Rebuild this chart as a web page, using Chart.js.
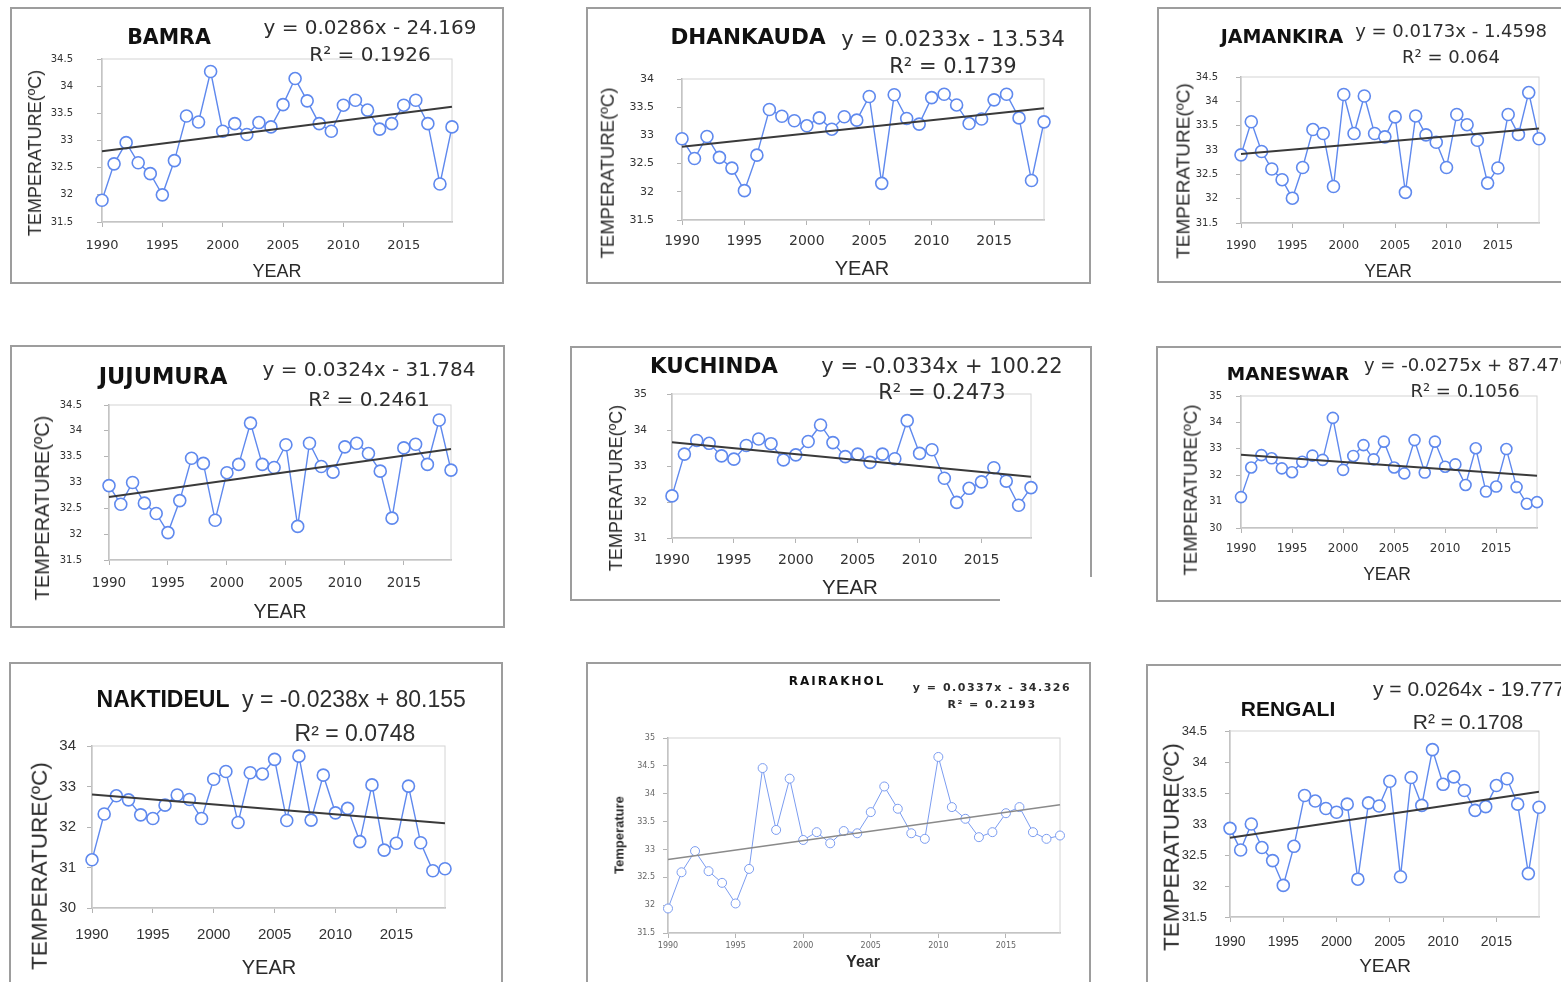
<!DOCTYPE html>
<html>
<head>
<meta charset="utf-8">
<title>Annual temperature trends 1990-2019</title>
<script src="https://cdn.jsdelivr.net/npm/chart.js@4.4.1/dist/chart.umd.min.js"></script>
<style>
  html, body { margin: 0; padding: 0; background: #fff; }
  body { width: 1561px; height: 982px; overflow: hidden; position: relative; }
  .frame { position: absolute; border: 2px solid #9d9d9d; box-sizing: border-box; }
  .edge { position: absolute; background: #9d9d9d; }
  canvas.panel { position: absolute; }
  .lbl { position: absolute; white-space: nowrap; line-height: 1; color: #1a1a1a; }
</style>
</head>
<body>
<script>
// ---- data ----
const years = [1990, 1991, 1992, 1993, 1994, 1995, 1996, 1997, 1998, 1999,
               2000, 2001, 2002, 2003, 2004, 2005, 2006, 2007, 2008, 2009,
               2010, 2011, 2012, 2013, 2014, 2015, 2016, 2017, 2018, 2019];

const stations = ['BAMRA', 'DHANKAUDA', 'JAMANKIRA', 'JUJUMURA', 'KUCHINDA',
                  'MANESWAR', 'NAKTIDEUL', 'RAIRAKHOL', 'RENGALI'];

const bamra = [31.90, 32.57, 32.96, 32.59, 32.39, 32.00, 32.63, 33.45, 33.34, 34.27,
               33.17, 33.31, 33.11, 33.33, 33.25, 33.66, 34.14, 33.73, 33.31, 33.17,
               33.65, 33.74, 33.56, 33.21, 33.31, 33.65, 33.74, 33.31, 32.20, 33.25];
const dhankauda = [32.94, 32.59, 32.98, 32.61, 32.42, 32.02, 32.65, 33.46, 33.34, 33.26,
                   33.17, 33.31, 33.11, 33.33, 33.27, 33.69, 32.15, 33.72, 33.30, 33.20,
                   33.67, 33.73, 33.54, 33.21, 33.29, 33.63, 33.73, 33.31, 32.20, 33.24];
const jamankira = [32.90, 33.58, 32.97, 32.61, 32.39, 32.01, 32.64, 33.42, 33.34, 32.25,
                   34.14, 33.34, 34.11, 33.34, 33.27, 33.68, 32.13, 33.70, 33.31, 33.16,
                   32.64, 33.73, 33.52, 33.20, 32.32, 32.63, 33.73, 33.32, 34.18, 33.23];
const jujumura = [32.94, 32.58, 33.00, 32.60, 32.40, 32.03, 32.65, 33.47, 33.37, 32.27,
                  33.19, 33.35, 34.15, 33.35, 33.29, 33.73, 32.15, 33.76, 33.31, 33.20,
                  33.69, 33.76, 33.56, 33.22, 32.31, 33.67, 33.74, 33.35, 34.21, 33.24];
const kuchinda = [32.17, 33.33, 33.71, 33.63, 33.28, 33.19, 33.57, 33.75, 33.62, 33.17,
                  33.31, 33.68, 34.14, 33.65, 33.26, 33.33, 33.10, 33.33, 33.20, 34.26,
                  33.35, 33.45, 32.66, 31.99, 32.38, 32.56, 32.95, 32.58, 31.91, 32.40];
const maneswar = [31.17, 32.29, 32.76, 32.64, 32.26, 32.11, 32.51, 32.74, 32.58, 34.17,
                  32.20, 32.73, 33.14, 32.60, 33.27, 32.29, 32.07, 33.33, 32.10, 33.27,
                  32.32, 32.41, 31.63, 33.02, 31.38, 31.57, 32.99, 31.55, 30.92, 30.98];
const naktideul = [31.19, 32.32, 32.77, 32.67, 32.30, 32.21, 32.54, 32.79, 32.68, 32.21,
                   33.18, 33.37, 32.11, 33.34, 33.31, 33.67, 32.16, 33.75, 32.17, 33.28,
                   32.35, 32.46, 31.64, 33.04, 31.43, 31.60, 33.01, 31.61, 30.92, 30.97];
const rairakhol = [31.94, 32.59, 32.97, 32.61, 32.40, 32.03, 32.65, 34.46, 33.35, 34.27,
                   33.17, 33.31, 33.11, 33.33, 33.29, 33.67, 34.13, 33.73, 33.29, 33.19,
                   34.66, 33.76, 33.55, 33.22, 33.31, 33.65, 33.76, 33.31, 33.19, 33.25];
const rengali = [32.93, 32.58, 33.00, 32.62, 32.41, 32.01, 32.64, 33.46, 33.37, 33.25,
                 33.19, 33.32, 32.11, 33.34, 33.29, 33.69, 32.15, 33.75, 33.30, 34.20,
                 33.64, 33.76, 33.54, 33.22, 33.28, 33.62, 33.73, 33.32, 32.20, 33.27];

const stationTemps = [bamra, dhankauda, jamankira, jujumura, kuchinda,
                      maneswar, naktideul, rairakhol, rengali];

// linear trend line, value at the first and the last year
const trendStart = [32.80, 32.80, 32.92, 32.72, 33.66, 32.77, 32.80, 32.82, 32.78];
const trendEnd   = [33.62, 33.48, 33.44, 33.65, 32.70, 31.98, 32.09, 33.80, 33.52];

const equations = ['y = 0.0286x - 24.169', 'y = 0.0233x - 13.534', 'y = 0.0173x - 1.4598',
                   'y = 0.0324x - 31.784', 'y = -0.0334x + 100.22', 'y = -0.0275x + 87.479',
                   'y = -0.0238x + 80.155', 'y = 0.0337x - 34.326', 'y = 0.0264x - 19.777'];
const rSquared = ['R² = 0.1926', 'R² = 0.1739', 'R² = 0.064', 'R² = 0.2461', 'R² = 0.2473',
                  'R² = 0.1056', 'R² = 0.0748', 'R² = 0.2193', 'R² = 0.1708'];

const yMin  = [31.5, 31.5, 31.5, 31.5, 31, 30, 30, 31.5, 31.5];
const yMax  = [34.5, 34, 34.5, 34.5, 35, 35, 34, 35, 34.5];
const yStep = [0.5, 0.5, 0.5, 0.5, 1, 1, 1, 0.5, 0.5];
const xStep = 5;

const yAxisTitles = ['TEMPERATURE(ºC)', 'TEMPERATURE(ºC)', 'TEMPERATURE(ºC)', 'TEMPERATURE(ºC)',
                     'TEMPERATURE(ºC)', 'TEMPERATURE(ºC)', 'TEMPERATURE(ºC)', 'Temperature',
                     'TEMPERATURE(ºC)'];
const xAxisTitles = ['YEAR', 'YEAR', 'YEAR', 'YEAR', 'YEAR', 'YEAR', 'YEAR', 'Year', 'YEAR'];

// ---- layout (page pixels) ----
const DV = '"DejaVu Sans", sans-serif';
const LS = '"Liberation Sans", Arial, sans-serif';

const layouts = [
  { box: [10, 7, 494, 277], plot: [102, 59, 452, 222], fam: DV, tickY: 10, tickX: 13, padY: 24, padX: 11,
    title: {x: 169, y: 37, size: 20.5}, eq: {x: 370, y: 27, size: 20}, r2: {x: 370, y: 54, size: 20},
    yTitle: {x: 35, y: 153, size: 18}, xTitle: {x: 277, y: 271, size: 18}, radius: 6 },
  { box: [586, 7, 505, 277], plot: [682, 79, 1044, 220], fam: DV, tickY: 11, tickX: 14, padY: 23, padX: 8,
    title: {x: 748, y: 37, size: 21.5}, eq: {x: 953, y: 39, size: 21}, r2: {x: 953, y: 66, size: 21},
    yTitle: {x: 608, y: 173, size: 18.5}, xTitle: {x: 862, y: 268, size: 20}, radius: 6 },
  { box: [1157, 7, 420, 276], plot: [1241, 77, 1539, 223], fam: DV, tickY: 10, tickX: 12, padY: 18, padX: 11,
    title: {x: 1282, y: 36, size: 19}, eq: {x: 1451, y: 31, size: 18}, r2: {x: 1451, y: 57, size: 18},
    yTitle: {x: 1183, y: 171, size: 19}, xTitle: {x: 1388, y: 272, size: 17.5}, radius: 6 },
  { box: [10, 345, 495, 283], plot: [109, 405, 451, 560], fam: DV, tickY: 10, tickX: 13.5, padY: 22, padX: 10,
    title: {x: 163, y: 376, size: 22.5}, eq: {x: 369, y: 369, size: 20}, r2: {x: 369, y: 399, size: 20},
    yTitle: {x: 42, y: 508, size: 20}, xTitle: {x: 280, y: 612, size: 19.5}, radius: 6 },
  { box: [570, 346, 522, 255], plot: [672, 394, 1031, 538], fam: DV, tickY: 10.5, tickX: 14, padY: 20, padX: 9,
    title: {x: 714, y: 366, size: 21.5}, eq: {x: 942, y: 366, size: 21}, r2: {x: 942, y: 392, size: 21},
    yTitle: {x: 616, y: 488, size: 18}, xTitle: {x: 850, y: 587, size: 20.5}, radius: 6,
    edges: {bottomTo: 1000, rightTo: 577} },
  { box: [1156, 346, 420, 256], plot: [1241, 396, 1537, 528], fam: DV, tickY: 10, tickX: 12, padY: 14, padX: 9,
    title: {x: 1288, y: 374, size: 18.5}, eq: {x: 1364, y: 365, size: 18, left: true},
    r2: {x: 1465, y: 391, size: 18},
    yTitle: {x: 1191, y: 490, size: 18.5}, xTitle: {x: 1387, y: 575, size: 17.5}, radius: 5.5 },
  { box: [9, 662, 494, 340], plot: [92, 746, 445, 908], fam: LS, tickY: 15, tickX: 15, padY: 11, padX: 13,
    title: {x: 163, y: 699, size: 23}, eq: {x: 354, y: 699, size: 23}, r2: {x: 355, y: 733, size: 23},
    yTitle: {x: 40, y: 866, size: 22.5}, xTitle: {x: 269, y: 967, size: 20}, radius: 6 },
  { box: [586, 662, 505, 340], plot: [668, 738, 1060, 933], fam: DV, tickY: 8, tickX: 8, padY: 8, padX: 3,
    small: true,
    title: {x: 837, y: 681, size: 12, ls: 2}, eq: {x: 992, y: 687, size: 11, ls: 1.5, bold: true},
    r2: {x: 992, y: 704, size: 11, ls: 1.5, bold: true},
    yTitle: {x: 619, y: 835, size: 13, bold: true}, xTitle: {x: 863, y: 962, size: 16, bold: true},
    radius: 4.5 },
  { box: [1146, 664, 430, 340], plot: [1230, 731, 1539, 917], fam: LS, tickY: 13, tickX: 14, padY: 18, padX: 12,
    title: {x: 1288, y: 708, size: 21}, eq: {x: 1373, y: 688, size: 21, left: true},
    r2: {x: 1468, y: 721, size: 21},
    yTitle: {x: 1172, y: 847, size: 22.5}, xTitle: {x: 1385, y: 965, size: 19}, radius: 6 }
];

// light border round the plot area
const plotFrame = {
  id: 'plotFrame',
  beforeDatasetsDraw(chart, args, opts) {
    const {left, top, right, bottom} = chart.chartArea;
    const ctx = chart.ctx;
    ctx.save();
    ctx.strokeStyle = opts.color || '#d6d6d6';
    ctx.lineWidth = 1;
    ctx.strokeRect(left, top, right - left, bottom - top);
    ctx.restore();
  }
};

function addDiv(cls, x, y, w, h) {
  const el = document.createElement('div');
  el.className = cls;
  el.style.left = x + 'px';
  el.style.top = y + 'px';
  el.style.width = w + 'px';
  el.style.height = h + 'px';
  document.body.appendChild(el);
  return el;
}

function addLabel(text, spec, family, opts) {
  const el = document.createElement('div');
  el.className = 'lbl';
  el.textContent = text;
  el.style.left = spec.x + 'px';
  el.style.top = spec.y + 'px';
  el.style.fontSize = spec.size + 'px';
  el.style.fontFamily = family;
  if (spec.bold || opts.bold) el.style.fontWeight = 'bold';
  if (spec.ls) el.style.letterSpacing = spec.ls + 'px';
  if (opts.color) el.style.color = opts.color;
  let t = spec.left ? 'translate(0,-50%)' : 'translate(-50%,-50%)';
  if (opts.vertical) t += ' rotate(-90deg)';
  el.style.transform = t;
  document.body.appendChild(el);
}

function drawPanel(i) {
  const lay = layouts[i];
  const [bx, by, bw, bh] = lay.box;
  const [L, T, R, B] = lay.plot;

  if (lay.edges) {
    // frame that was cropped unevenly in the source figure
    const f = addDiv('frame', bx, by, bw, bh);
    f.style.borderRight = 'none';
    f.style.borderBottom = 'none';
    addDiv('edge', bx, by + bh - 2, lay.edges.bottomTo - bx, 2);
    addDiv('edge', bx + bw - 2, by, 2, lay.edges.rightTo - by);
  } else {
    addDiv('frame', bx, by, bw, bh);
  }

  const canvas = document.createElement('canvas');
  canvas.className = 'panel';
  canvas.width = bw;
  canvas.height = bh;
  canvas.style.left = bx + 'px';
  canvas.style.top = by + 'px';
  document.body.appendChild(canvas);

  const yWidth = L - bx;
  const xHeight = by + bh - B;
  const small = !!lay.small;
  const blue = small ? '#7b9cf0' : '#5f89ee';
  const axisGrey = '#b4b4b4';
  const tickColor = small ? '#666666' : '#333333';

  const temps = stationTemps[i];
  const series = years.map((yr, k) => ({x: yr, y: temps[k]}));
  const trend = [{x: years[0], y: trendStart[i]}, {x: years[years.length - 1], y: trendEnd[i]}];

  new Chart(canvas, {
    type: 'line',
    data: {
      datasets: [
        {
          label: 'Linear trend',
          data: trend,
          borderColor: small ? '#8a8a8a' : '#3a3a3a',
          borderWidth: small ? 1.5 : 2,
          pointRadius: 0,
          clip: false
        },
        {
          label: stations[i],
          data: series,
          borderColor: blue,
          borderWidth: small ? 1 : 1.4,
          pointRadius: lay.radius,
          pointBorderWidth: small ? 1 : 1.6,
          pointBorderColor: blue,
          pointBackgroundColor: '#ffffff',
          tension: 0,
          clip: false
        }
      ]
    },
    options: {
      responsive: false,
      maintainAspectRatio: false,
      animation: false,
      events: [],
      layout: {
        padding: {left: 0, top: T - by, right: bx + bw - R, bottom: 0}
      },
      plugins: {
        legend: {display: false},
        tooltip: {enabled: false},
        plotFrame: {color: '#d4d4d4'}
      },
      scales: {
        x: {
          type: 'linear',
          min: years[0],
          max: years[years.length - 1],
          afterFit: s => { s.height = xHeight; },
          border: {display: true, color: axisGrey, width: 1.5},
          grid: {drawOnChartArea: false, drawTicks: true, tickLength: 5, color: axisGrey},
          ticks: {
            stepSize: xStep,
            includeBounds: false,
            autoSkip: false,
            maxRotation: 0,
            color: tickColor,
            padding: lay.padX,
            font: {family: lay.fam, size: lay.tickX},
            callback: v => String(v)
          }
        },
        y: {
          type: 'linear',
          min: yMin[i],
          max: yMax[i],
          afterFit: s => { s.width = yWidth; },
          border: {display: true, color: axisGrey, width: 1.5},
          grid: {drawOnChartArea: false, drawTicks: true, tickLength: 5, color: axisGrey},
          ticks: {
            stepSize: yStep[i],
            color: tickColor,
            padding: lay.padY,
            font: {family: lay.fam, size: lay.tickY},
            callback: v => String(v)
          }
        }
      }
    },
    plugins: [plotFrame]
  });

  addLabel(stations[i], lay.title, lay.fam, {bold: true, color: '#111'});
  addLabel(equations[i], lay.eq, lay.fam, {color: '#2e2e2e'});
  addLabel(rSquared[i], lay.r2, lay.fam, {color: '#2e2e2e'});
  addLabel(yAxisTitles[i], lay.yTitle, LS, {vertical: true, color: '#2a2a2a'});
  addLabel(xAxisTitles[i], lay.xTitle, LS, {color: '#2a2a2a'});
}

stations.forEach((name, i) => drawPanel(i));
</script>
</body>
</html>
